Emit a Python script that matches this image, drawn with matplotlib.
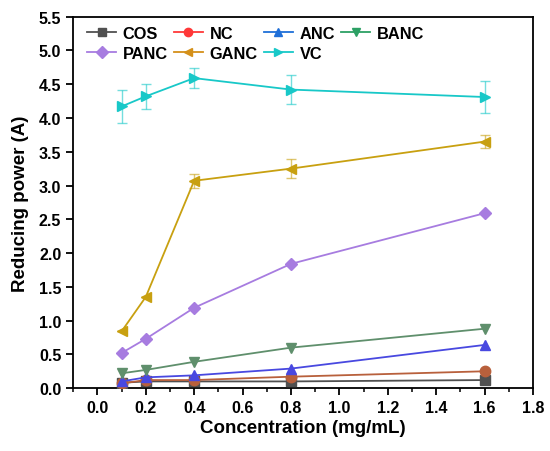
import matplotlib

matplotlib.use("Agg")
import matplotlib.pyplot as plt
from matplotlib.lines import Line2D
from matplotlib.ticker import MultipleLocator

plt.rcParams.update({
    "font.family": ["Liberation Sans", "DejaVu Sans"],
    "font.weight": "bold",
    "axes.linewidth": 1.3,
})

conc = [0.1, 0.2, 0.4, 0.8, 1.6]

names = ["COS", "NC", "ANC", "BANC", "PANC", "GANC", "VC"]
cos_vals = [0.08, 0.10, 0.10, 0.10, 0.12]
nc_vals = [0.07, 0.12, 0.12, 0.17, 0.25]
anc_vals = [0.10, 0.16, 0.19, 0.29, 0.64]
banc_vals = [0.22, 0.27, 0.39, 0.60, 0.88]
panc_vals = [0.52, 0.73, 1.19, 1.84, 2.59]
ganc_vals = [0.84, 1.35, 3.07, 3.25, 3.65]
vc_vals = [4.17, 4.32, 4.59, 4.42, 4.31]

ganc_err = [0.0, 0.0, 0.10, 0.14, 0.10]
vc_err = [0.24, 0.18, 0.15, 0.22, 0.23]

series = [cos_vals, nc_vals, anc_vals, banc_vals, panc_vals, ganc_vals, vc_vals]
errors = [None, None, None, None, None, ganc_err, vc_err]
markers = ["s", "o", "^", "v", "D", "<", ">"]
sizes = [6.5, 7.5, 7.5, 7.5, 6.5, 7.5, 7.5]
line_colors = ["#505050", "#b8603c", "#4848e0", "#5f8f6c", "#a77ce0", "#c8a010", "#18c8c8"]
legend_colors = ["#505050", "#ff3838", "#1f6fd8", "#2ca064", "#a77ce0", "#d4901a", "#18c8c8"]

fig = plt.figure(figsize=(5.5, 4.52), dpi=100)
ax = fig.add_axes([0.133, 0.139, 0.836, 0.822])

for vals, err, mk, ms, col in zip(series, errors, markers, sizes, line_colors):
    ax.plot(conc, vals, color=col, marker=mk, markersize=ms, linewidth=1.3, zorder=3)
    if err is not None:
        ax.errorbar(conc, vals, yerr=err, fmt="none", ecolor=col, alpha=0.6,
                    elinewidth=1.0, capsize=3.5, capthick=1.0, zorder=2)

# legend filled row by row (matplotlib fills column-wise)
handles = [Line2D([], [], color=c, marker=m, markersize=6, linewidth=1.3)
           for c, m in zip(legend_colors, markers)]
order = [0, 4, 1, 5, 2, 6, 3]
ax.legend([handles[i] for i in order], [names[i] for i in order],
          loc="upper left", ncol=4, frameon=False,
          fontsize=11.8, handlelength=1.8, handletextpad=0.4,
          columnspacing=0.35, labelspacing=0.3, borderaxespad=0.15,
          bbox_to_anchor=(0.01, 1.0))

ax.set_xlim(-0.1, 1.8)
ax.set_ylim(0, 5.5)
ax.xaxis.set_minor_locator(MultipleLocator(0.1))
ax.set_xticks([round(0.2 * i, 1) for i in range(10)])
ax.set_xticklabels([f"{0.2 * i:.1f}" for i in range(10)])
ax.set_yticks([0.5 * i for i in range(12)])
ax.set_yticklabels([f"{0.5 * i:.1f}" for i in range(12)])
ax.tick_params(axis="both", which="major", direction="out", length=5, width=1.3,
               labelsize=11.5, top=False, right=False)
ax.tick_params(axis="x", which="minor", direction="out", length=3, width=1.1)

ax.set_xlabel("Concentration (mg/mL)", fontsize=13.5, fontweight="bold", labelpad=3)
ax.set_ylabel("Reducing power (A)", fontsize=13.5, fontweight="bold", labelpad=7)

fig.savefig("out.png", dpi=100)
